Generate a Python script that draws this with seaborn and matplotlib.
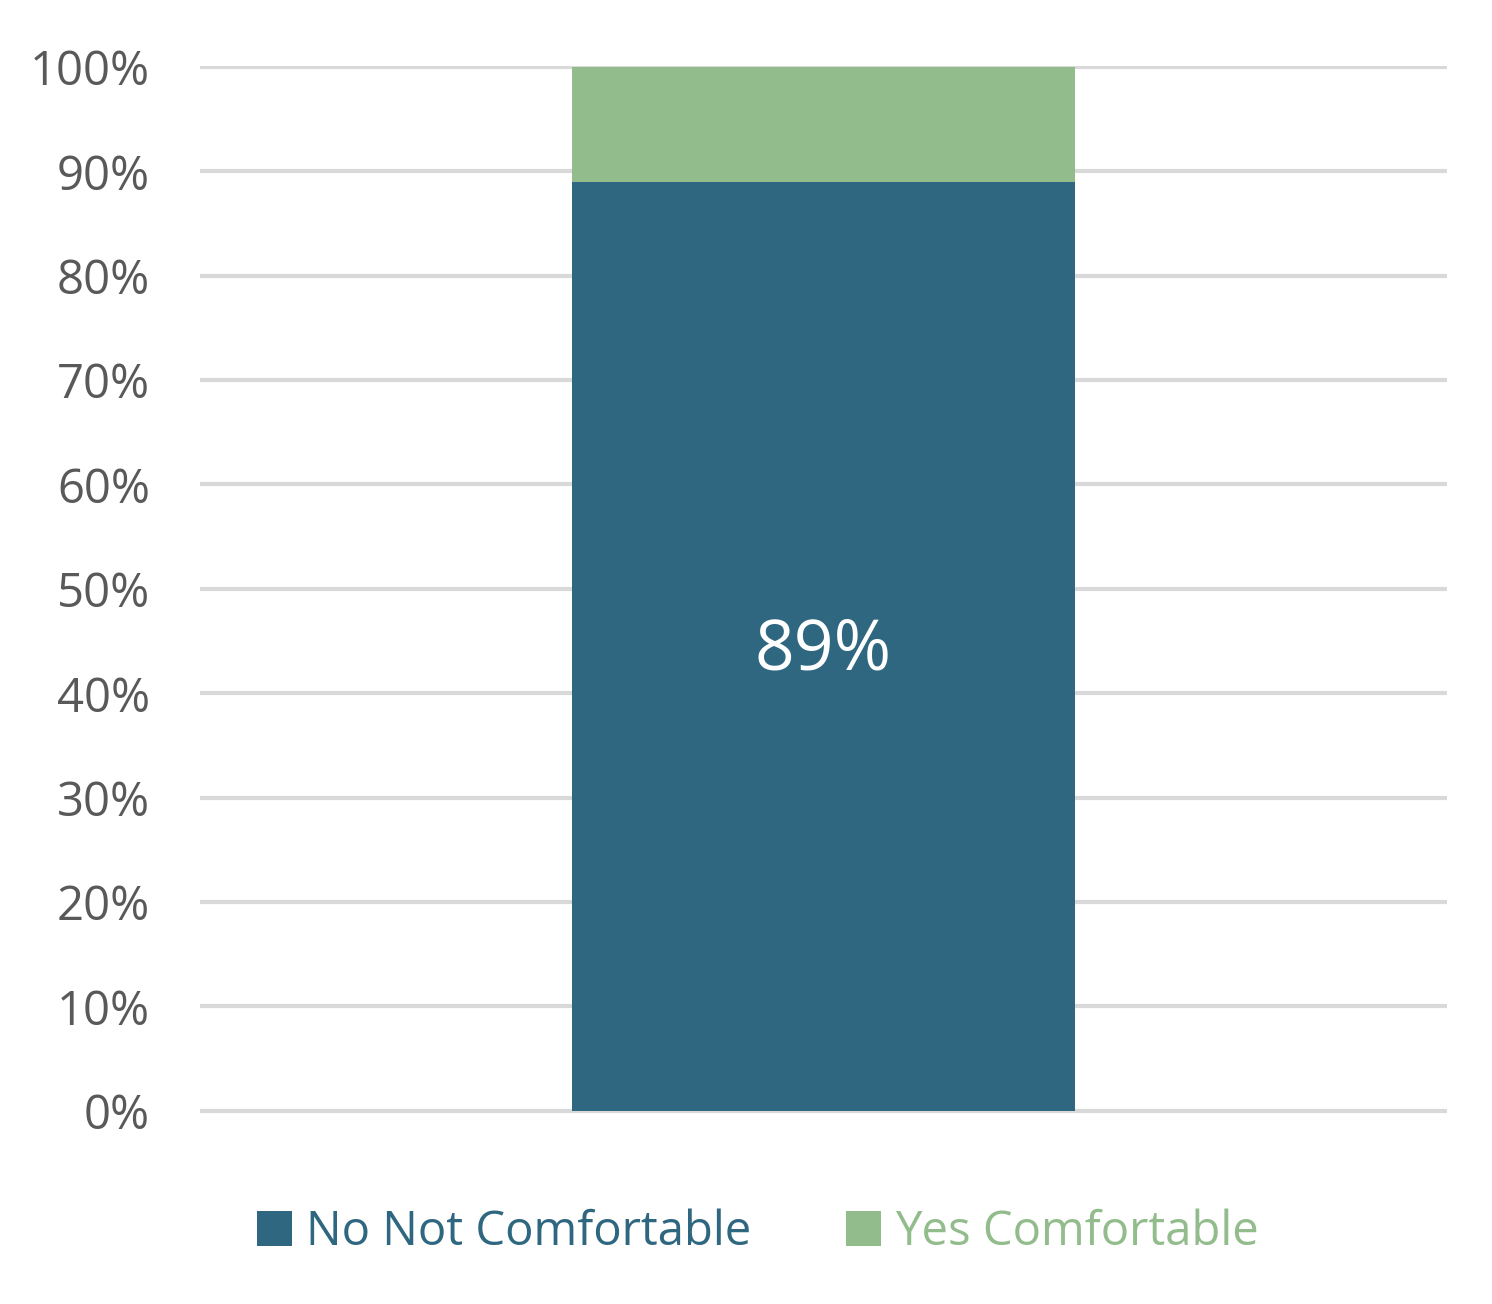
import numpy as np
import pandas as pd
import matplotlib
matplotlib.use('Agg')
import matplotlib.pyplot as plt
import seaborn as sb
from matplotlib.ticker import PercentFormatter
from matplotlib.patches import Patch

# data
categories = ['']
no_not_comfortable = [0.89]
yes_comfortable = [0.11]
series_names = ['No Not Comfortable', 'Yes Comfortable']
colores = ['#2E677F', '#93BC8C']

sb.set_theme(style='white')
plt.rcParams['font.family'] = ['Open Sans', 'DejaVu Sans']

df = pd.DataFrame({'cat': categories,
                   'no': no_not_comfortable,
                   'total': np.array(no_not_comfortable) + np.array(yes_comfortable)})

fig = plt.figure(figsize=(14.92, 13.04), dpi=100)
ax = fig.add_axes([0.134, 0.1457, 0.8358, 0.8038])

# stacked: full bar in green, then the "no" part on top of it
sb.barplot(data=df, x='cat', y='total', color=colores[1], width=0.403,
           saturation=1, linewidth=0, ax=ax, zorder=3)
sb.barplot(data=df, x='cat', y='no', color=colores[0], width=0.403,
           saturation=1, linewidth=0, ax=ax, zorder=3)

ax.set_xlim(-0.5, 0.5)
ax.set_ylim(-0.003, 1.001)
ax.set_yticks(np.arange(0, 1.01, 0.1))
ax.yaxis.set_major_formatter(PercentFormatter(1.0, decimals=0))
ax.grid(axis='y', color='#D9D9D9', linewidth=3, zorder=0)
ax.set_axisbelow(True)
for s in ax.spines.values():
    s.set_visible(False)
ax.set_xlabel('')
ax.set_ylabel('')
ax.set_xticks([])
ax.tick_params(axis='y', length=0, pad=36, labelsize=34, labelcolor='#595959')

# value label
ax.text(0, no_not_comfortable[0] / 2 - 0.005, f'{no_not_comfortable[0]:.0%}',
        ha='center', va='center', color='white', fontsize=50, zorder=5)

handles = [Patch(facecolor=c, edgecolor='none') for c in colores]
fig.legend(handles, series_names, loc='center', bbox_to_anchor=(0.508, 0.055),
           ncol=2, frameon=False, fontsize=34, labelcolor=colores,
           handlelength=0.75, handleheight=0.75, handletextpad=0.3,
           columnspacing=2.0)

plt.savefig('out.png', dpi=100)
